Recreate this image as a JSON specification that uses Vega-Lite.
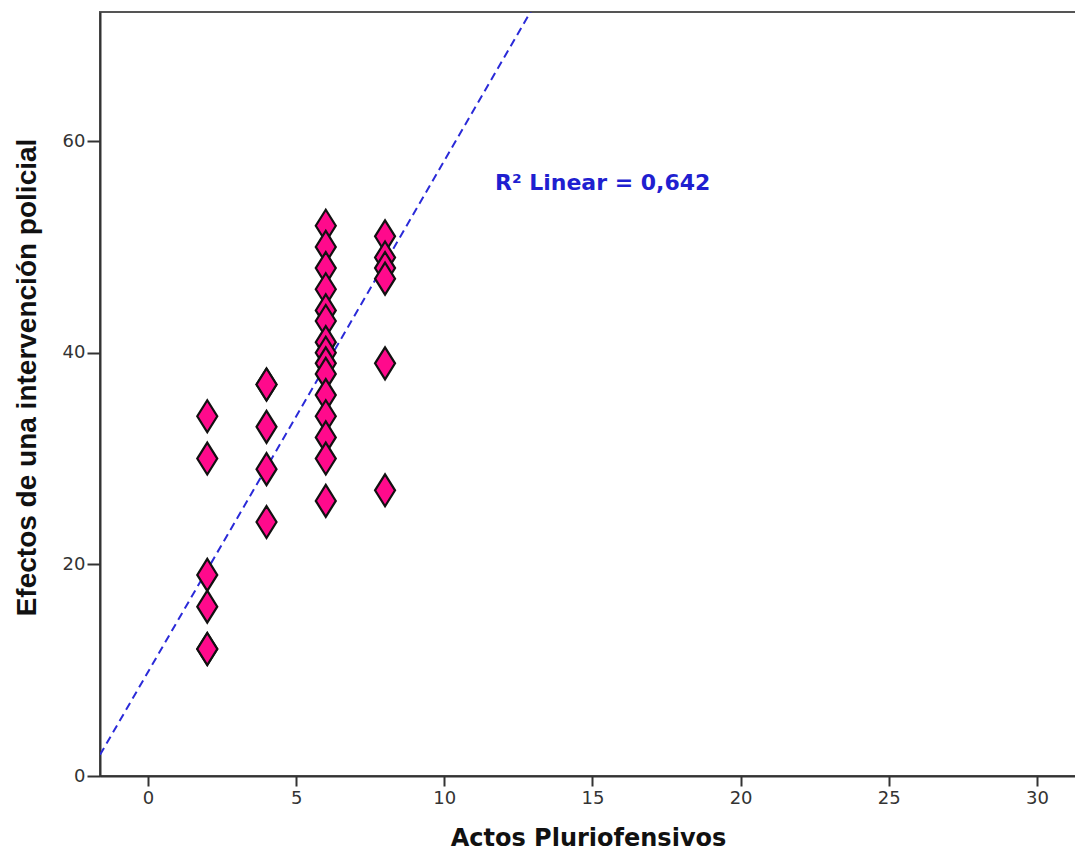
{
  "$schema": "https://vega.github.io/schema/vega-lite/v6.json",
  "width": 976,
  "height": 764,
  "autosize": {"type": "none"},
  "padding": {"left": 100, "top": 12, "right": 0, "bottom": 78},
  "background": "white",
  "config": {
    "view": {"stroke": "#555555", "strokeWidth": 2},
    "font": "DejaVu Sans",
    "axis": {
      "grid": false,
      "domainColor": "#333333",
      "domainWidth": 2,
      "tickColor": "#333333",
      "tickWidth": 2,
      "tickSize": 10,
      "labelFont": "DejaVu Sans",
      "labelFontSize": 18,
      "labelColor": "#333333",
      "titleFontWeight": "bold",
      "titleColor": "#111111"
    }
  },
  "datasets": {
    "pts": [
      {"actos": 2, "efectos": 34}, {"actos": 2, "efectos": 30}, {"actos": 2, "efectos": 19},
      {"actos": 2, "efectos": 16}, {"actos": 2, "efectos": 12}, {"actos": 2, "efectos": 12},
      {"actos": 4, "efectos": 37}, {"actos": 4, "efectos": 37}, {"actos": 4, "efectos": 33},
      {"actos": 4, "efectos": 29}, {"actos": 4, "efectos": 24},
      {"actos": 6, "efectos": 52}, {"actos": 6, "efectos": 50}, {"actos": 6, "efectos": 48},
      {"actos": 6, "efectos": 46}, {"actos": 6, "efectos": 44}, {"actos": 6, "efectos": 43},
      {"actos": 6, "efectos": 41}, {"actos": 6, "efectos": 40}, {"actos": 6, "efectos": 39},
      {"actos": 6, "efectos": 38}, {"actos": 6, "efectos": 36}, {"actos": 6, "efectos": 34},
      {"actos": 6, "efectos": 32}, {"actos": 6, "efectos": 30}, {"actos": 6, "efectos": 26},
      {"actos": 8, "efectos": 51}, {"actos": 8, "efectos": 49}, {"actos": 8, "efectos": 48},
      {"actos": 8, "efectos": 47}, {"actos": 8, "efectos": 39}, {"actos": 8, "efectos": 27}
    ],
    "fit": [
      {"actos": -1.62, "efectos": 2.0},
      {"actos": 12.95, "efectos": 72.4}
    ],
    "label": [
      {"actos": 11.71, "efectos": 56.05, "text": "R² Linear = 0,642"}
    ]
  },
  "layer": [
    {
      "data": {"name": "fit"},
      "mark": {"type": "line", "color": "#2a2ad8", "strokeWidth": 2, "strokeDash": [8, 5], "clip": true},
      "encoding": {
        "x": {"field": "actos", "type": "quantitative",
              "scale": {"domain": [-1.62, 31.32], "nice": false, "zero": false},
              "axis": {"values": [0, 5, 10, 15, 20, 25, 30], "title": "Actos Pluriofensivos",
                       "titleFont": "DejaVu Sans", "titleFontSize": 24, "titlePadding": 19, "labelPadding": 3, "tickSize": 10}},
        "y": {"field": "efectos", "type": "quantitative",
              "scale": {"domain": [0, 72.2], "nice": false},
              "axis": {"values": [0, 20, 40, 60], "title": "Efectos de una intervención policial",
                       "titleFont": "Liberation Sans", "titleFontSize": 28, "titlePadding": 21, "titleY": 365, "labelPadding": 2, "tickSize": 13}}
      }
    },
    {
      "data": {"name": "pts"},
      "mark": {"type": "point", "shape": "M0,-1.6L1,0L0,1.6L-1,0Z", "size": 400, "filled": true, "fill": "#ff0a8c", "stroke": "#111111", "strokeWidth": 2.2, "opacity": 1},
      "encoding": {
        "x": {"field": "actos", "type": "quantitative"},
        "y": {"field": "efectos", "type": "quantitative"}
      }
    },
    {
      "data": {"name": "label"},
      "mark": {"type": "text", "align": "left", "baseline": "middle", "font": "DejaVu Sans", "fontSize": 22, "fontWeight": "bold", "color": "#1f1fd0"},
      "encoding": {
        "x": {"field": "actos", "type": "quantitative"},
        "y": {"field": "efectos", "type": "quantitative"},
        "text": {"field": "text"}
      }
    }
  ]
}
